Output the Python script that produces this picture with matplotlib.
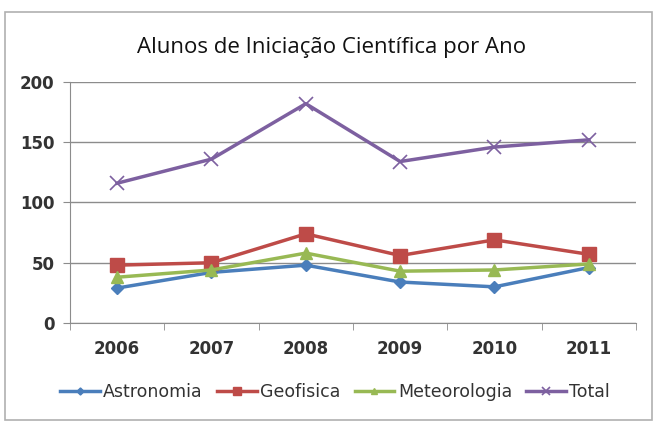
import matplotlib.pyplot as plt
import matplotlib.patches as mpatches

years = ['2006', '2007', '2008', '2009', '2010', '2011']
astronomia = [29, 42, 48, 34, 30, 46]
geofisica = [48, 50, 74, 56, 69, 57]
meteorologia = [38, 44, 58, 43, 44, 49]
total = [116, 136, 182, 134, 146, 152]

fig = plt.figure(figsize=(6.57, 4.22), dpi=100)
plot = fig.add_axes([0.1065, 0.2346, 0.8615, 0.5711])

x = list(range(len(years)))
plot.plot(x, astronomia, color='#4A7EBB', marker='D', markersize=6, lw=2.5, label='Astronomia')
plot.plot(x, geofisica, color='#BE4B48', marker='s', markersize=10, lw=2.5, label='Geofisica')
plot.plot(x, meteorologia, color='#98B954', marker='^', markersize=8, lw=2.5, label='Meteorologia')
plot.plot(x, total, color='#7D60A0', marker='x', markersize=10, mew=1.2, lw=2.5, label='Total')

plot.set_xlim(-0.5, len(years) - 0.5)
plot.set_ylim(0, 200)
plot.set_yticks([0, 50, 100, 150, 200])
plot.yaxis.grid(True, color='#8c8c8c', lw=1)
plot.set_axisbelow(True)
plot.set_xticks(x)
plot.set_xticklabels(years, fontsize=12, fontweight='bold', color='#333333')
plot.tick_params(axis='x', length=0, pad=12)
plot.set_xticks([i + 0.5 for i in range(-1, len(years))], minor=True)
plot.tick_params(axis='x', which='minor', length=5, color='#8c8c8c', direction='out')
plot.tick_params(axis='y', labelsize=12, length=5, color='#8c8c8c', labelcolor='#333333', pad=6)
for lab in plot.get_yticklabels():
    lab.set_fontweight('bold')

for side in ['top', 'right']:
    plot.spines[side].set_visible(False)
for side in ['left', 'bottom']:
    plot.spines[side].set_color('#8c8c8c')

fig.text(0.505, 0.888, 'Alunos de Iniciação Científica por Ano', ha='center', va='center',
         fontsize=16, color='#111111', family='Open Sans')

fig.legend(loc='center', bbox_to_anchor=(0.51, 0.07), ncol=4, frameon=False, fontsize=12.5,
           handlelength=2.3, handletextpad=0.2, columnspacing=0.8, markerscale=0.6,
           labelcolor='#333333')

fig.patches.append(mpatches.Rectangle((0.008, 0.005), 0.985, 0.966, transform=fig.transFigure,
                                      fill=False, edgecolor='#b0b0b0', lw=1.2))

fig.savefig('out.png', dpi=100)
